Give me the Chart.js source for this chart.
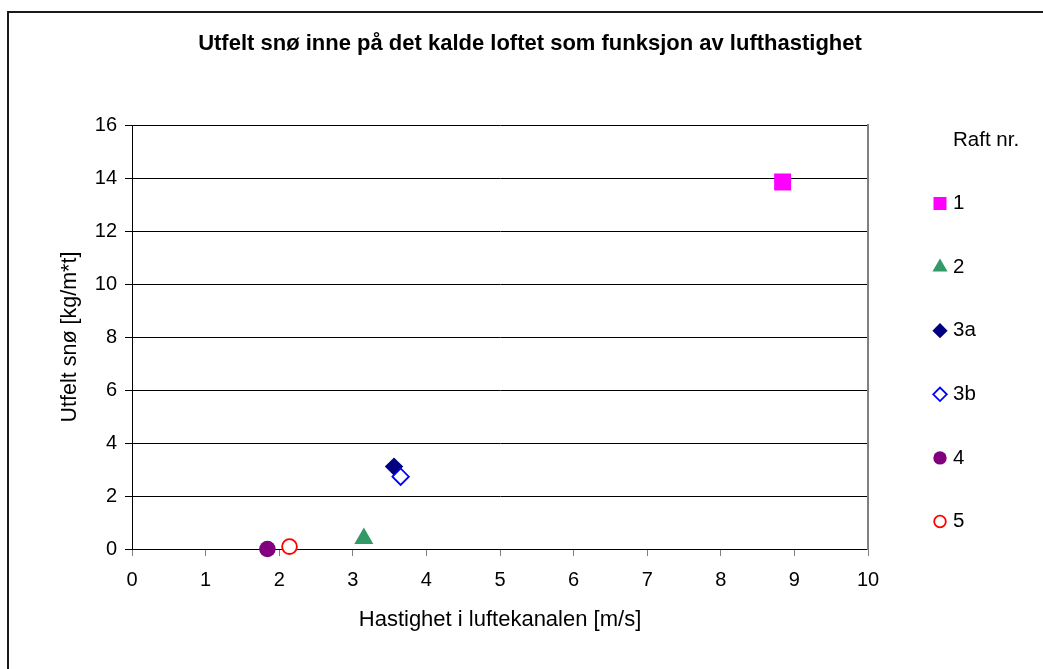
<!DOCTYPE html>
<html>
<head>
<meta charset="utf-8">
<script src="https://cdn.jsdelivr.net/npm/chart.js@4/dist/chart.umd.min.js"></script>
<style>
  html, body { margin: 0; padding: 0; background: #fff; overflow: hidden; }
  #frame { position: absolute; left: 7px; top: 11px; width: 2000px; height: 2000px;
           border-left: 2px solid #1a1a1a; border-top: 2px solid #1a1a1a; }
  #wrap { position: absolute; left: 0; top: 0; width: 1043px; height: 669px; }
</style>
</head>
<body>
<div id="frame"></div>
<div id="wrap"><canvas id="chart"></canvas></div>
<script>
// data
const rafts = ["1", "2", "3a", "3b", "4", "5"];
const speeds = [8.84, 3.15, 3.56, 3.65, 1.84, 2.14];   // m/s
const snow = [13.85, 0.40, 3.11, 2.73, 0.0, 0.09];     // kg/m*t
const xTicks = [0, 1, 2, 3, 4, 5, 6, 7, 8, 9, 10];
const yTicks = [0, 2, 4, 6, 8, 10, 12, 14, 16];

// marker look per raft (chart marker radius, legend marker radius)
const markers = [
  { style: "rect",     r: 12,  lr: 9.2, fill: "#ff00ff", line: "#ff00ff", bw: 0 },
  { style: "triangle", r: 11,  lr: 8.7, fill: "#339966", line: "#339966", bw: 0 },
  { style: "rectRot",  r: 9.2, lr: 7.6, fill: "#000080", line: "#000080", bw: 0 },
  { style: "rectRot",  r: 8.2, lr: 6.8, fill: "#ffffff", line: "#0000ff", bw: 1.8 },
  { style: "circle",   r: 8.3, lr: 6.7, fill: "#800080", line: "#800080", bw: 0 },
  { style: "circle",   r: 7.4, lr: 5.8, fill: "#ffffff", line: "#ff0000", bw: 1.8 }
];

const FONT = "'Liberation Sans', Arial, sans-serif";
Chart.defaults.font.family = FONT;
Chart.defaults.color = "#000";

const datasets = rafts.map((name, i) => ({
  label: name,
  data: [{ x: speeds[i], y: snow[i] }],
  pointStyle: markers[i].style,
  pointRadius: markers[i].r,
  pointHoverRadius: markers[i].r,
  backgroundColor: markers[i].fill,
  borderColor: markers[i].line,
  borderWidth: markers[i].bw,
  showLine: false,
  clip: false,
  order: name === "3b" ? 0 : 1
}));

// legend on the right, "Raft nr." heading over the entries
const raftLegend = {
  id: "raftLegend",
  afterDraw(chart) {
    const ctx = chart.ctx;
    const area = chart.chartArea;
    const markX = area.right + 72;
    const textX = area.right + 85;
    ctx.save();
    ctx.font = "20.5px " + FONT;
    ctx.fillStyle = "#000";
    ctx.textBaseline = "middle";
    ctx.textAlign = "left";
    ctx.fillText("Raft nr.", textX, area.top + 15);
    rafts.forEach((name, i) => {
      const y = area.top + 78.5 + i * 63.6;
      const m = markers[i];
      ctx.fillStyle = m.fill;
      ctx.strokeStyle = m.line;
      ctx.lineWidth = m.bw;
      Chart.helpers.drawPoint(ctx, { pointStyle: m.style, radius: m.lr, borderWidth: m.bw, rotation: 0 }, markX, y);
      ctx.fillStyle = "#000";
      ctx.fillText(name, textX, y);
    });
    ctx.restore();
  }
};

new Chart(document.getElementById("chart"), {
  type: "scatter",
  data: { datasets },
  plugins: [raftLegend],
  options: {
    responsive: true,
    maintainAspectRatio: false,
    animation: false,
    events: [],
    layout: { padding: { left: 17, right: 0, top: 0, bottom: 0 } },
    plugins: {
      legend: { display: false },
      tooltip: { enabled: false },
      title: {
        display: true,
        text: "Utfelt snø inne på det kalde loftet som funksjon av lufthastighet",
        font: { size: 22, weight: "bold" },
        color: "#000",
        padding: { top: 30.8, bottom: 67.8 }
      }
    },
    scales: {
      x: {
        type: "linear",
        min: 0,
        max: 10,
        afterBuildTicks: (s) => { s.ticks = xTicks.map((v) => ({ value: v })); },
        afterFit: (s) => { s.height = 120; },
        ticks: { font: { size: 20 }, padding: 12, color: "#000" },
        grid: { drawOnChartArea: false, drawTicks: true, tickLength: 7, tickColor: "#808080", tickWidth: 1 },
        border: { color: "#000", width: 1 },
        title: {
          display: true,
          text: "Hastighet i luftekanalen [m/s]",
          font: { size: 22 },
          color: "#000",
          padding: { top: 4, bottom: 35.8 }
        }
      },
      y: {
        type: "linear",
        min: 0,
        max: 16,
        afterBuildTicks: (s) => { s.ticks = yTicks.map((v) => ({ value: v })); },
        afterFit: (s) => { s.width = 115; },
        ticks: { font: { size: 20 }, padding: 8, color: "#000" },
        grid: { color: "#000", lineWidth: 1, drawTicks: true, tickLength: 7, tickColor: "#000" },
        border: { color: "#000", width: 1 },
        title: {
          display: true,
          text: "Utfelt snø [kg/m*t]",
          font: { size: 21.5 },
          color: "#000",
          padding: { top: 40, bottom: 0 }
        }
      },
      y2: {
        type: "linear",
        position: "right",
        min: 0,
        max: 16,
        afterFit: (s) => { s.width = 175; },
        ticks: { display: false },
        grid: { drawOnChartArea: false, drawTicks: false },
        border: { color: "#808080", width: 2 }
      }
    }
  }
});
</script>
</body>
</html>
